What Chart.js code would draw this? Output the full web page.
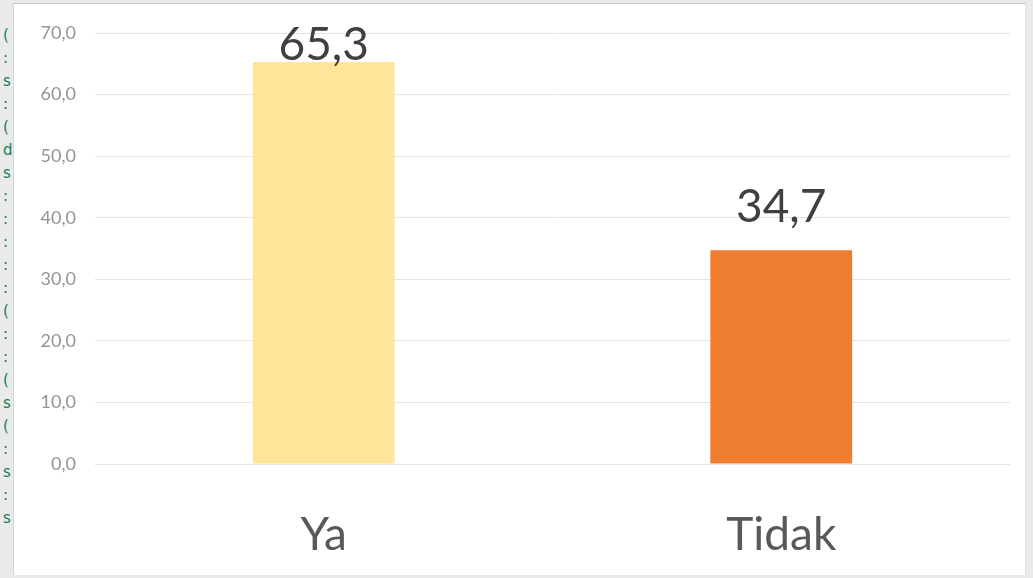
<!DOCTYPE html>
<html>
<head>
<meta charset="utf-8">
<script src="https://cdn.jsdelivr.net/npm/chart.js@4.4.1/dist/chart.umd.min.js"></script>
<style>
  html,body{margin:0;padding:0;background:#e9eaea;width:1033px;height:578px;overflow:hidden;}
  #frame{position:absolute;left:13px;top:3px;width:1013px;height:572px;background:#fff;border-top:1px solid #c8c8c8;border-left:1px solid #d6d6d6;border-right:1px solid #e2e2e2;box-sizing:border-box;}
  #side{position:absolute;left:3px;top:24px;width:10px;overflow:hidden;color:#1f7a4d;font:15px "DejaVu Sans",sans-serif;line-height:23px;white-space:pre;}
  #wrap{position:absolute;left:0;top:0;width:1033px;height:578px;}
</style>
</head>
<body>
<div id="side">(
:
s
:
(
d
s
:
:
:
:
:
(
:
:
(
s
(
:
s
:
s</div>
<div id="frame"></div>
<div id="wrap"><canvas id="c" width="1033" height="578"></canvas></div>
<script>
const categories = ["Ya", "Tidak"];
const values = [65.3, 34.7];
const barColors = ["#FFE599", "#ED7D31"];
const yTicks = [0, 10, 20, 30, 40, 50, 60, 70];

const fmt = v => v.toFixed(1).replace(".", ",");

const labelPlugin = {
  id: "valueLabels",
  afterDatasetsDraw(chart) {
    const ctx = chart.ctx;
    const meta = chart.getDatasetMeta(0);
    ctx.save();
    ctx.font = "46px Lato";
    ctx.fillStyle = "#404040";
    ctx.textAlign = "center";
    ctx.textBaseline = "alphabetic";
    meta.data.forEach((bar, i) => {
      const y = Math.max(bar.y - 28, 60);
      ctx.fillText(fmt(values[i]), bar.x, y);
    });
    ctx.restore();
  }
};

new Chart(document.getElementById("c"), {
  type: "bar",
  data: {
    labels: categories,
    datasets: [{
      data: values,
      backgroundColor: barColors,
      borderWidth: 0,
      barPercentage: 0.31,
      categoryPercentage: 1.0
    }]
  },
  options: {
    responsive: false,
    animation: false,
    devicePixelRatio: 1,
    layout: { padding: { left: 0, top: 33, right: 23, bottom: 0 } },
    plugins: { legend: { display: false }, tooltip: { enabled: false } },
    scales: {
      x: {
        grid: { display: false, drawTicks: false },
        border: { display: false },
        ticks: { color: "#595959", font: { family: "Lato", size: 46 }, padding: 44 },
        afterFit(s) { s.height = 114; }
      },
      y: {
        min: 0, max: 70,
        afterBuildTicks(s) { s.ticks = yTicks.map(v => ({ value: v })); },
        grid: { color: "#e3e3e3", lineWidth: 1, drawTicks: false },
        border: { display: false },
        ticks: { color: "#949494", font: { family: "Lato", size: 18 }, padding: 19, callback: v => fmt(v) },
        afterFit(s) { s.width = 95; }
      }
    }
  },
  plugins: [labelPlugin]
});
</script>
</body>
</html>
